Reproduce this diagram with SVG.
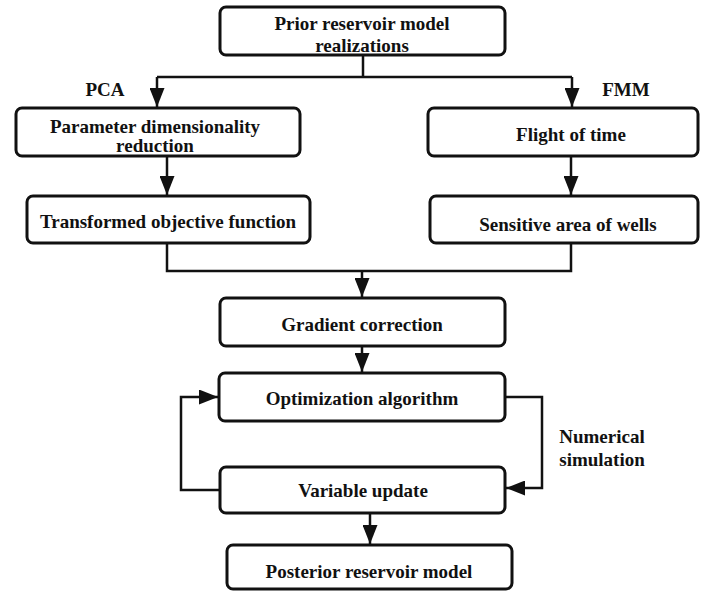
<svg xmlns="http://www.w3.org/2000/svg" width="706" height="592" viewBox="0 0 706 592">
<defs>
<style>
.box{fill:#fff;stroke:#111;stroke-width:3}
.t{font-family:"Liberation Serif","Times New Roman",serif;font-weight:bold;font-size:19px;fill:#111;text-anchor:middle}
.c{fill:none;stroke:#111;stroke-width:2.5}
</style>
<marker id="ah" markerUnits="userSpaceOnUse" markerWidth="19" markerHeight="15" refX="19" refY="7.5" viewBox="0 0 19 15" orient="auto">
<path d="M0,0 L19,7.5 L0,15 Z" fill="#111"/>
</marker>
</defs>
<rect width="706" height="592" fill="#fff"/>
<g id="connectors">
<path class="c" d="M363,55 V77"/>
<path class="c" d="M157,77 H572"/>
<path class="c" d="M157,77 V107" marker-end="url(#ah)"/>
<path class="c" d="M572,77 V107" marker-end="url(#ah)"/>
<path class="c" d="M167,156 V195" marker-end="url(#ah)"/>
<path class="c" d="M571,156 V195" marker-end="url(#ah)"/>
<path class="c" d="M167,243 V271 H571 V243"/>
<path class="c" d="M362,271 V297" marker-end="url(#ah)"/>
<path class="c" d="M362,346 V372" marker-end="url(#ah)"/>
<path class="c" d="M220,490 H181 V397 H218" marker-end="url(#ah)"/>
<path class="c" d="M505,397 H542 V488 H506" marker-end="url(#ah)"/>
<path class="c" d="M370,513 V544" marker-end="url(#ah)"/>
</g>
<g id="label-pca"><text class="t" x="105" y="96">PCA</text></g>
<g id="label-fmm"><text class="t" x="626" y="96">FMM</text></g>
<g id="label-numsim"><text class="t" x="602" y="443">Numerical</text><text class="t" x="602" y="466">simulation</text></g>
<g id="n-prior"><rect class="box" x="220" y="7" width="285" height="48" rx="6"/><text class="t" x="362" y="30">Prior reservoir model</text><text class="t" x="362" y="52">realizations</text></g>
<g id="n-pdr"><rect class="box" x="16" y="108" width="284" height="48" rx="6"/><text class="t" x="155" y="133">Parameter dimensionality</text><text class="t" x="155" y="152">reduction</text></g>
<g id="n-tof"><rect class="box" x="27" y="196" width="283" height="47" rx="6"/><text class="t" x="168" y="228">Transformed objective function</text></g>
<g id="n-flight"><rect class="box" x="428" y="108" width="270" height="48" rx="6"/><text class="t" x="571" y="141">Flight of time</text></g>
<g id="n-sens"><rect class="box" x="430" y="196" width="268" height="47" rx="6"/><text class="t" x="568" y="231">Sensitive area of wells</text></g>
<g id="n-grad"><rect class="box" x="220" y="298" width="285" height="48" rx="6"/><text class="t" x="362" y="331">Gradient correction</text></g>
<g id="n-opt"><rect class="box" x="219" y="373" width="286" height="48" rx="6"/><text class="t" x="362" y="405">Optimization algorithm</text></g>
<g id="n-var"><rect class="box" x="220" y="467" width="285" height="46" rx="6"/><text class="t" x="363" y="497">Variable update</text></g>
<g id="n-post"><rect class="box" x="227" y="545" width="285" height="44" rx="6"/><text class="t" x="369" y="578">Posterior reservoir model</text></g>
</svg>
